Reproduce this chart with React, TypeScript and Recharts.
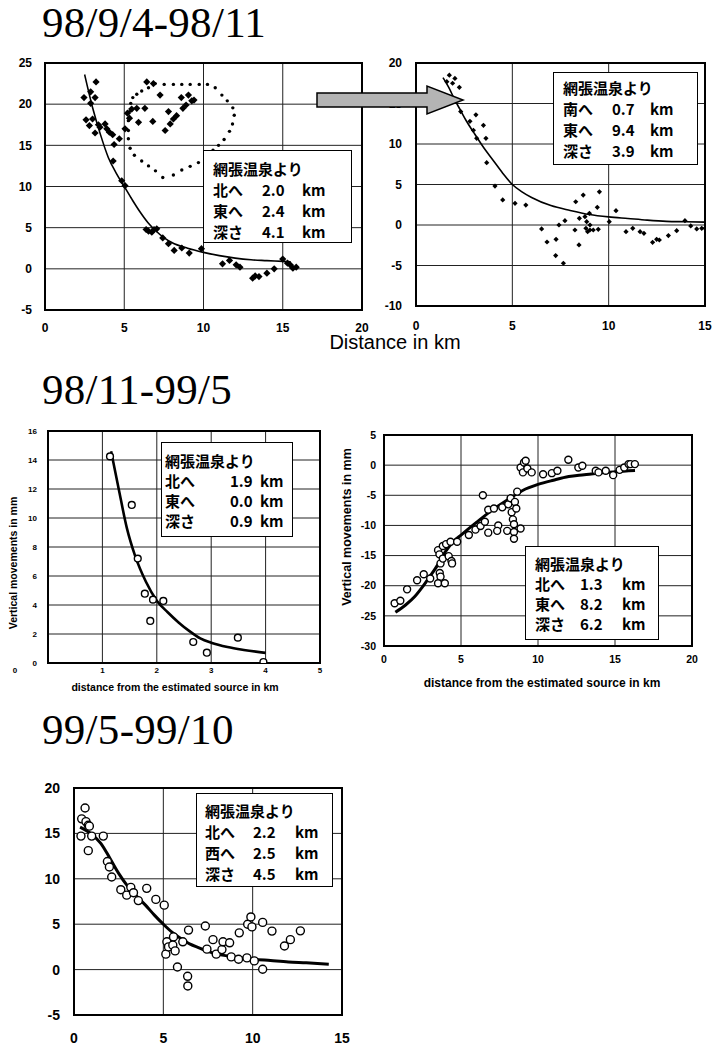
import React from 'react'
import { ScatterChart, Scatter, XAxis, YAxis, CartesianGrid, ReferenceArea } from 'recharts'

type Pt = [number, number]

const header = '網張温泉より'
const titles = ['98/9/4-98/11', '98/11-99/5', '99/5-99/10']

// 98/9/4-98/11, left panel
const p1Diamonds: Pt[] = [
  [2.46, 20.8], [2.88, 21.5], [3.22, 22.7], [3.16, 20.8], [2.88, 20.1], [2.59, 18.1], [2.8, 17.4],
  [3.0, 18.2], [3.16, 16.5], [3.37, 17.5], [3.47, 17.2], [3.79, 17.6], [3.9, 17.0], [4.06, 16.6],
  [4.27, 16.3], [4.36, 15.1], [4.69, 15.8], [4.3, 13.1], [4.84, 10.7], [5.05, 10.1], [5.05, 17.0],
  [5.2, 18.9], [5.47, 19.4], [5.79, 19.5], [5.33, 18.3], [5.9, 17.8], [6.3, 19.5], [6.42, 22.7],
  [6.84, 22.5], [6.8, 17.9], [7.26, 21.1], [7.58, 16.8], [7.79, 19.1], [7.9, 17.6], [8.1, 18.2],
  [8.3, 18.6], [8.6, 20.8], [8.7, 19.5], [8.9, 19.9], [9.05, 21.1], [9.26, 20.4], [9.4, 20.5],
  [6.38, 4.78], [6.53, 4.57], [6.74, 4.45], [6.88, 4.78], [7.05, 4.86], [7.43, 3.76], [7.79, 3.06],
  [8.15, 2.24], [8.63, 2.53], [9.1, 1.92], [9.87, 2.45], [11.2, 0.61], [11.64, 1.02], [12.06, 0.49],
  [12.3, 0.2], [13.1, -1.14], [13.26, -0.86], [13.5, -0.94], [14.0, -0.53], [14.46, 0], [15.0, 1.18],
  [15.3, 0.69], [15.47, 0.49], [15.64, 0.08], [15.85, 0.2]
]
const p1Loop: Pt[] = [
  [5.26, 15.8], [5.37, 14.65], [5.64, 13.8], [6.1, 13.1], [6.53, 12.5], [6.97, 11.9], [7.43, 11.1],
  [8.1, 11.4], [8.63, 12.0], [9.16, 12.45], [9.68, 12.9], [10.2, 13.75], [10.6, 14.4], [10.95, 15.0],
  [11.3, 15.7], [11.64, 16.7], [11.83, 17.6], [11.94, 18.65], [11.85, 19.55], [11.5, 20.4],
  [11.16, 21.1], [10.74, 22.0], [10.25, 22.4], [9.73, 22.4], [9.16, 22.4], [8.63, 22.4], [8.1, 22.4],
  [7.52, 22.4], [6.95, 22.5], [6.53, 22.0], [6.1, 21.6], [5.79, 21.2], [5.54, 20.8], [5.41, 20.1],
  [5.33, 19.1], [5.26, 18.0], [5.26, 16.8]
]
const p1Curve: Pt[] = [
  [2.5, 23.6], [3, 19.6], [3.5, 16.3], [4, 13.5], [4.5, 11.6], [5, 10.0], [5.5, 8.4], [6, 6.9],
  [6.5, 5.6], [7, 4.6], [7.5, 3.8], [8, 3.2], [9, 2.5], [10, 2.0], [11, 1.6], [12, 1.3], [13, 1.1],
  [14, 1.0], [15, 0.9], [15.5, 0.85]
]
const p1Box: [string, string][] = [['北へ', '2.0'], ['東へ', '2.4'], ['深さ', '4.1']]
const p1XTicks = [0, 5, 10, 15, 20]
const p1YTicks = [-5, 0, 5, 10, 15, 20, 25]

// 98/9/4-98/11, right panel
const p2Diamonds: Pt[] = [
  [1.73, 18.5], [2.02, 18.1], [1.9, 17.5], [2.25, 17.0], [1.6, 17.7], [2.32, 14.0], [2.8, 12.8],
  [3.11, 13.6], [2.98, 11.7], [3.15, 10.7], [3.5, 12.3], [3.63, 10.7], [3.67, 7.7], [4.1, 4.8],
  [4.5, 3.1], [5.14, 2.67], [5.7, 2.46], [6.52, -0.49], [6.8, -2.1], [7.27, -1.77], [7.42, 0],
  [7.25, -3.78], [7.65, -4.72], [7.73, 0.53], [8.25, -0.62], [8.29, 2.87], [8.48, 0.82],
  [8.46, -2.46], [8.68, 3.7], [8.77, 1.03], [8.86, 0.41], [8.82, -0.41], [8.91, -0.82], [9.03, -0.62],
  [9.2, -0.62], [9.03, 0], [9.0, 1.44], [9.41, 2.18], [9.52, 4.1], [9.46, -0.53], [10.03, 0.41],
  [10.38, 1.77], [10.9, -0.82], [11.25, -0.41], [11.63, -0.82], [11.83, -1.03], [12.28, -2.14],
  [12.49, -1.77], [12.63, -1.85], [13.1, -1.31], [13.53, -0.7], [13.96, 0.53], [14.26, -0.12],
  [14.57, -0.49], [14.83, -0.41], [15.0, -0.41]
]
const p2Curve: Pt[] = [
  [1.4, 18.2], [1.7, 17.0], [2.0, 15.5], [2.3, 14.2], [2.6, 12.9], [3.0, 11.4], [3.5, 9.6],
  [4.0, 8.0], [4.5, 6.4], [5.0, 5.0], [5.5, 4.1], [6.0, 3.4], [7.0, 2.4], [8.0, 1.8], [9.0, 1.3],
  [10, 1.0], [11, 0.8], [12, 0.6], [13, 0.45], [14, 0.4], [15, 0.35]
]
const p2Box: [string, string][] = [['南へ', '0.7'], ['東へ', '9.4'], ['深さ', '3.9']]
const p2XTicks = [0, 5, 10, 15]
const p2YTicks = [-10, -5, 0, 5, 10, 15, 20]

// 98/11-99/5, left panel
const p3Circles: Pt[] = [
  [1.14, 14.25], [1.54, 10.9], [1.65, 7.2], [1.78, 4.78], [1.93, 4.37], [1.88, 2.9], [2.12, 4.28],
  [2.67, 1.45], [2.92, 0.71], [3.49, 1.75], [3.96, 0.07]
]
const p3Curve: Pt[] = [
  [1.16, 14.6], [1.3, 12.0], [1.45, 9.3], [1.6, 7.4], [1.8, 5.6], [2.0, 4.3], [2.2, 3.5],
  [2.4, 2.8], [2.6, 2.2], [2.8, 1.7], [3.0, 1.4], [3.3, 1.1], [3.6, 0.9], [4.0, 0.7]
]
const p3Box: [string, string][] = [['北へ', '1.9'], ['東へ', '0.0'], ['深さ', '0.9']]
const p3XTicks = [0, 1, 2, 3, 4, 5]
const p3YTicks = [0, 2, 4, 6, 8, 10, 12, 14, 16]

// 98/11-99/5, right panel
const p4Circles: Pt[] = [
  [0.69, -22.9], [1.06, -22.5], [1.5, -20.6], [2.15, -19.1], [2.58, -18.1], [3.0, -18.8],
  [3.51, -14.1], [3.6, -14.8], [3.67, -16.3], [3.62, -17.9], [3.67, -18.5], [3.51, -19.6],
  [3.95, -19.6], [3.82, -15.5], [3.82, -13.4], [4.03, -13.1], [4.2, -15.1], [4.32, -12.7],
  [4.38, -15.9], [4.42, -16.3], [4.75, -12.7], [5.51, -11.6], [5.94, -10.7], [6.27, -10.1],
  [6.42, -5.0], [6.55, -9.4], [6.77, -7.4], [6.77, -11.2], [7.14, -7.2], [7.42, -10.0],
  [7.35, -10.9], [7.68, -7.0], [8.0, -10.9], [8.07, -6.5], [8.22, -5.5], [8.29, -7.8],
  [8.37, -9.0], [8.44, -9.8], [8.44, -11.1], [8.44, -12.2], [8.5, -6.1], [8.59, -7.2],
  [8.65, -4.4], [8.87, -10.5], [8.87, -0.4], [9.02, -1.2], [9.09, 0.44], [9.2, 0.72],
  [9.31, -0.55], [9.59, -1.2], [10.33, -1.5], [10.9, -1.33], [11.26, -0.94], [11.97, 0.89],
  [12.62, -0.39], [12.88, -0.11], [13.75, -0.94], [13.93, -1.2], [14.4, -0.94], [14.88, -1.66],
  [15.3, -0.78], [15.6, -0.39], [15.88, 0.17], [16.0, 0.17], [16.29, 0.17]
]
const p4Curve: Pt[] = [
  [0.74, -24.4], [1.4, -23.2], [2.0, -21.8], [2.5, -20.2], [3.0, -18.4], [3.5, -16.5],
  [4.0, -14.3], [4.5, -12.7], [5.0, -11.6], [6.0, -9.5], [7.0, -7.5], [8.0, -5.8], [9.0, -4.2],
  [10, -3.2], [11, -2.5], [12, -1.9], [13, -1.6], [14, -1.3], [15, -1.1], [16.3, -0.9]
]
const p4Box: [string, string][] = [['北へ', '1.3'], ['東へ', '8.2'], ['深さ', '6.2']]
const p4XTicks = [0, 5, 10, 15, 20]
const p4YTicks = [-30, -25, -20, -15, -10, -5, 0, 5]

// 99/5-99/10
const p5Circles: Pt[] = [
  [0.39, 14.7], [0.43, 16.6], [0.62, 17.8], [0.67, 16.3], [0.8, 15.9], [0.86, 15.8], [0.8, 13.1],
  [0.99, 14.7], [1.64, 14.7], [1.87, 11.9], [1.98, 11.3], [2.11, 10.2], [2.62, 8.8], [2.95, 8.2],
  [3.18, 9.06], [3.33, 8.47], [3.6, 7.6], [4.07, 8.95], [4.58, 7.73], [5.05, 7.1], [5.14, 1.7],
  [5.2, 3.06], [5.29, 2.5], [5.57, 3.6], [5.53, 2.69], [5.66, 2.06], [5.79, 0.29], [6.09, 3.06],
  [6.36, -0.74], [6.37, -1.8], [6.41, 4.35], [7.35, 4.8], [7.44, 2.25], [7.78, 3.3], [7.96, 1.7],
  [8.28, 2.2], [8.34, 3.06], [8.71, 2.95], [8.8, 1.4], [9.25, 4.05], [9.21, 1.14], [9.68, 1.29],
  [9.72, 5.0], [9.9, 5.8], [9.96, 4.7], [10.09, 0.96], [10.56, 5.2], [10.56, 0.04], [11.08, 4.24],
  [11.78, 2.6], [12.11, 3.3], [12.67, 4.27]
]
const p5Curve: Pt[] = [
  [0.34, 15.7], [1.0, 14.9], [1.5, 13.9], [2.0, 12.3], [2.5, 10.6], [3.0, 9.2], [3.5, 8.1],
  [4.0, 7.1], [4.5, 6.0], [5.0, 5.0], [5.5, 4.1], [6.0, 3.4], [6.5, 2.8], [7.0, 2.4], [7.5, 2.0],
  [8.0, 1.7], [9.0, 1.4], [10, 1.15], [11, 1.0], [12, 0.85], [13, 0.75], [14.26, 0.6]
]
const p5Box: [string, string][] = [['北へ', '2.2'], ['西へ', '2.5'], ['深さ', '4.5']]
const p5XTicks = [0, 5, 10, 15]
const p5YTicks = [-5, 0, 5, 10, 15, 20]

const toXY = (pts: Pt[]) => pts.map(([x, y]) => ({ x, y }))

const diamond = (s: number) => (p: any) => (
  <path d={`M${p.cx},${p.cy - s}L${p.cx + s},${p.cy}L${p.cx},${p.cy + s}L${p.cx - s},${p.cy}Z`} fill="#000" />
)
const dot = (r: number) => (p: any) => <circle cx={p.cx} cy={p.cy} r={r} fill="#000" />
const ring = (r: number) => (p: any) => (
  <circle cx={p.cx} cy={p.cy} r={r} fill="#fff" stroke="#000" strokeWidth={1.4} />
)
const noShape = () => <g />

function curve(pts: Pt[], w: number) {
  return (
    <Scatter
      data={toXY(pts)}
      line={{ stroke: '#000', strokeWidth: w }}
      lineJointType="monotoneX"
      shape={noShape}
      isAnimationActive={false}
    />
  )
}

interface PanelProps {
  left: number
  top: number
  width: number
  height: number
  mt: number
  mr: number
  yWidth: number
  xHeight: number
  xTicks: number[]
  yTicks: number[]
  font: number
  xGap: number
  yGap: number
  xTick?: any
  children: React.ReactNode
}

function Panel(p: PanelProps) {
  const xd = [p.xTicks[0], p.xTicks[p.xTicks.length - 1]]
  const yd = [p.yTicks[0], p.yTicks[p.yTicks.length - 1]]
  const tick = { fontSize: p.font, fontWeight: 700, fill: '#000' }
  return (
    <div style={{ position: 'absolute', left: p.left, top: p.top }}>
      <ScatterChart width={p.width} height={p.height} margin={{ top: p.mt, right: p.mr, left: 0, bottom: 0 }}>
        <CartesianGrid stroke="#222" strokeWidth={1} />
        <XAxis
          type="number" dataKey="x" domain={xd} ticks={p.xTicks} interval={0} height={p.xHeight}
          axisLine={false} tickLine={false} tickSize={0} tickMargin={p.xGap} tick={p.xTick ?? tick} allowDataOverflow
        />
        <YAxis
          type="number" dataKey="y" domain={yd} ticks={p.yTicks} interval={0} width={p.yWidth}
          axisLine={false} tickLine={false} tickSize={0} tickMargin={p.yGap} tick={tick} allowDataOverflow
        />
        <ReferenceArea x1={xd[0]} x2={xd[1]} y1={yd[0]} y2={yd[1]} fill="none" stroke="#000" strokeWidth={2} />
        {p.children}
      </ScatterChart>
    </div>
  )
}

interface BoxProps {
  left: number
  top: number
  width: number
  height: number
  rows: [string, string][]
  cols: number[]
  first: number
  gap: number
  font: number
}

function InfoBox(b: BoxProps) {
  const lh = 20
  const all: [string, string][] = [[header, ''], ...b.rows]
  return (
    <div style={{
      position: 'absolute', left: b.left, top: b.top, width: b.width, height: b.height, boxSizing: 'border-box',
      border: '1.5px solid #000', background: '#fff', fontFamily: '"Noto Sans CJK JP", sans-serif',
      fontSize: b.font, fontWeight: 700, color: '#000'
    }}>
      {all.map((r, i) => (
        <div key={i} style={{ position: 'absolute', left: 0, top: b.first + i * b.gap - lh / 2, height: lh, lineHeight: `${lh}px`, width: '100%' }}>
          <span style={{ position: 'absolute', left: b.cols[0], whiteSpace: 'nowrap' }}>{r[0]}</span>
          {i > 0 && <span style={{ position: 'absolute', left: b.cols[1] }}>{r[1]}</span>}
          {i > 0 && <span style={{ position: 'absolute', left: b.cols[2] }}>km</span>}
        </div>
      ))}
    </div>
  )
}

const p3XTick = (props: any) => {
  const v = props.payload.value
  return (
    <text x={props.x + (v === 0 ? -33 : 0)} y={props.y} dy="0.71em" textAnchor="middle" fontSize={8} fontWeight={700} fill="#000">
      {v}
    </text>
  )
}

const titleStyle: React.CSSProperties = {
  position: 'absolute', left: 42, fontFamily: '"Liberation Serif", serif', fontSize: 43, lineHeight: '43px',
  letterSpacing: 0.3, color: '#000', whiteSpace: 'nowrap'
}

const axisTitle: React.CSSProperties = {
  position: 'absolute', fontWeight: 700, color: '#000', whiteSpace: 'nowrap', textAlign: 'center'
}

export default function App() {
  return (
    <div style={{
      position: 'absolute', left: 0, top: 0, width: 712, height: 1049, background: '#fff', overflow: 'hidden',
      fontFamily: '"Liberation Sans", Arial, sans-serif'
    }}>
      <div style={{ ...titleStyle, top: 1 }}>{titles[0]}</div>
      <div style={{ ...titleStyle, top: 368 }}>{titles[1]}</div>
      <div style={{ ...titleStyle, top: 708 }}>{titles[2]}</div>

      <Panel left={0} top={50} width={370} height={295} mt={13} mr={8} yWidth={45} xHeight={35}
        xTicks={p1XTicks} yTicks={p1YTicks} font={12} xGap={13} yGap={13}>
        {curve(p1Curve, 1.6)}
        <Scatter data={toXY(p1Loop)} shape={dot(1.7)} isAnimationActive={false} />
        <Scatter data={toXY(p1Diamonds)} shape={diamond(3.6)} isAnimationActive={false} />
      </Panel>

      <Panel left={370} top={50} width={342} height={295} mt={13} mr={7} yWidth={46} xHeight={39}
        xTicks={p2XTicks} yTicks={p2YTicks} font={12} xGap={15} yGap={14}>
        {curve(p2Curve, 1.6)}
        <Scatter data={toXY(p2Diamonds)} shape={diamond(2.6)} isAnimationActive={false} />
      </Panel>

      <Panel left={0} top={420} width={330} height={280} mt={11} mr={10} yWidth={48} xHeight={37}
        xTicks={p3XTicks} yTicks={p3YTicks} font={8} xGap={4} yGap={11} xTick={p3XTick}>
        {curve(p3Curve, 2.6)}
        <Scatter data={toXY(p3Circles)} shape={ring(3.4)} isAnimationActive={false} />
      </Panel>

      <Panel left={340} top={420} width={360} height={260} mt={15} mr={8} yWidth={44} xHeight={34}
        xTicks={p4XTicks} yTicks={p4YTicks} font={10.5} xGap={10} yGap={8}>
        {curve(p4Curve, 3)}
        <Scatter data={toXY(p4Circles)} shape={ring(3.5)} isAnimationActive={false} />
      </Panel>

      <Panel left={0} top={770} width={350} height={279} mt={18} mr={8} yWidth={74} xHeight={34}
        xTicks={p5XTicks} yTicks={p5YTicks} font={14} xGap={18} yGap={14}>
        {curve(p5Curve, 3)}
        <Scatter data={toXY(p5Circles)} shape={ring(4)} isAnimationActive={false} />
      </Panel>

      <InfoBox left={203} top={150} width={149} height={93} rows={p1Box} cols={[9, 58, 98]} first={18} gap={21} font={15} />
      <InfoBox left={553} top={72} width={145} height={93} rows={p2Box} cols={[9, 58, 96]} first={15} gap={21} font={15} />
      <InfoBox left={161} top={442} width={132} height={95} rows={p3Box} cols={[3, 68, 98]} first={18} gap={20} font={15} />
      <InfoBox left={525} top={546} width={134} height={94} rows={p4Box} cols={[9, 54, 96]} first={17} gap={20} font={15} />
      <InfoBox left={196} top={793} width={137} height={94} rows={p5Box} cols={[8, 56, 98]} first={17} gap={21} font={15} />

      <div style={{ ...axisTitle, fontWeight: 400, left: 290, top: 331, width: 210, fontSize: 20, lineHeight: '22px' }}>
        Distance in km
      </div>
      <div style={{ ...axisTitle, left: 20, top: 681, width: 310, fontSize: 10.5, lineHeight: '12px' }}>
        distance from the estimated source in km
      </div>
      <div style={{ ...axisTitle, left: 392, top: 676, width: 300, fontSize: 12, lineHeight: '14px' }}>
        distance from the estimated source in km
      </div>
      <div style={{ ...axisTitle, left: 13 - 100, top: 563 - 6, width: 200, fontSize: 10.5, lineHeight: '12px', transform: 'rotate(-90deg)' }}>
        Vertical movements in mm
      </div>
      <div style={{ ...axisTitle, left: 347 - 110, top: 527 - 7, width: 220, fontSize: 12.5, lineHeight: '14px', transform: 'rotate(-90deg)' }}>
        Vertical movements in mm
      </div>

      <svg width={712} height={1049} style={{ position: 'absolute', left: 0, top: 0, pointerEvents: 'none' }}>
        <path d="M317,93 L427,93 L427,86 L463,100 L427,114 L427,107 L317,107 Z" fill="#b4b4b4" stroke="#000" strokeWidth={1.5} />
      </svg>
    </div>
  )
}
